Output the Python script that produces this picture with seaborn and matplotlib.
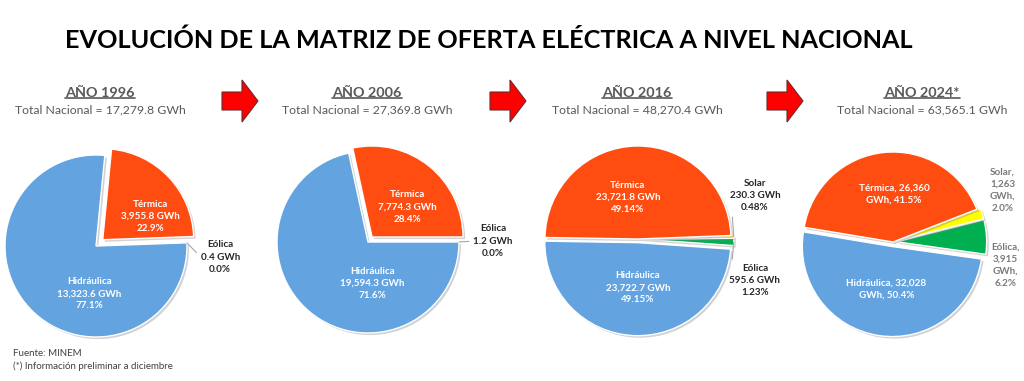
import numpy as np
import matplotlib
matplotlib.use("Agg")
import matplotlib.pyplot as plt
import matplotlib.patheffects as pe
from matplotlib.patches import Polygon
from matplotlib.lines import Line2D
import seaborn as sns

# data (GWh)
years = ["1996", "2006", "2016", "2024*"]
totals = [17279.8, 27369.8, 48270.4, 63565.1]
sources = ["Eólica", "Solar", "Térmica", "Hidráulica"]
eolica = [0.4, 1.2, 595.6, 3915]
solar = [0.0, 0.0, 230.3, 1263]
termica = [3955.8, 7774.3, 23721.8, 26360]
hidraulica = [13323.6, 19594.3, 23722.7, 32028]

sns.set_theme(style="white")
plt.rcParams["font.family"] = ["Lato", "DejaVu Sans"]

W, H = 1024, 381
U = 92.0  # pixels per pie unit
fig = plt.figure(figsize=(W / 100, H / 100), dpi=100)

colors = {"Eólica": "#00B050", "Solar": "#FFFF00",
          "Térmica": "#FF4D12", "Hidráulica": "#62A3E0"}
grey = "#595959"

# layout for each pie: centre (px), radius (px), start angle, explode, label spots
layout = [
    dict(cx=96, cy=246, r=91, start=2, explode={"Térmica": 0.1},
         pos={"Térmica": (0.59, 0.32), "Hidráulica": (-0.07, -0.52), "Eólica": (1.35, -0.12)},
         leader={"Eólica": (0.0, 0.5)}),
    dict(cx=368, cy=242, r=91, start=0, explode={"Térmica": 0.07},
         pos={"Térmica": (0.43, 0.38), "Hidráulica": (0.05, -0.45), "Eólica": (1.36, 0.01)},
         leader={"Eólica": (0.0, 0.5)}),
    dict(cx=638, cy=239, r=93, start=-4, explode={"Hidráulica": 0.04, "Solar": 0.03, "Eólica": 0.03},
         pos={"Térmica": (-0.11, 0.45), "Hidráulica": (0.0, -0.53), "Solar": (1.27, 0.47), "Eólica": (1.27, -0.45)},
         leader={"Solar": (0.05, 0.0), "Eólica": (0.05, 1.0)}),
    dict(cx=893, cy=242, r=90, start=-8, explode={"Hidráulica": 0.05, "Solar": 0.04, "Eólica": 0.04},
         pos={"Térmica": (0.01, 0.52), "Hidráulica": (-0.07, -0.51), "Solar": (1.19, 0.56), "Eólica": (1.22, -0.25)},
         leader={}),
]
header_x = [100, 367, 637, 922]
arrow_x = [222, 490, 767]

fig.text(489 / W, 1 - 40 / H, "EVOLUCIÓN DE LA MATRIZ DE OFERTA ELÉCTRICA A NIVEL NACIONAL",
         ha="center", va="center", fontsize=18.2, fontweight="bold", color="black")

year_texts = []
for i, yr in enumerate(years):
    t = fig.text(header_x[i] / W, 1 - 93 / H, f"AÑO {yr}", ha="center", va="center",
                 fontsize=10.4, fontweight="bold", color=grey)
    year_texts.append(t)
    fig.text(header_x[i] / W, 1 - 110 / H, f"Total Nacional = {totals[i]:,.1f} GWh",
             ha="center", va="center", fontsize=8.8, color=grey)

for i, yr in enumerate(years):
    lay = layout[i]
    vals = {"Eólica": eolica[i], "Solar": solar[i], "Térmica": termica[i], "Hidráulica": hidraulica[i]}
    names = [s for s in sources if vals[s] > 0]
    v = np.array([vals[s] for s in names])
    pct = v / totals[i] * 100
    half = 1.5 * U
    ax = fig.add_axes([(lay["cx"] - half) / W, 1 - (lay["cy"] + half) / H, 2 * half / W, 2 * half / H])
    wedges, _ = ax.pie(v, colors=[colors[s] for s in names], startangle=lay["start"], counterclock=True,
                       explode=[lay["explode"].get(s, 0) for s in names], radius=lay["r"] / U,
                       wedgeprops=dict(edgecolor="white", linewidth=1.0))
    for w in wedges:
        w.set_path_effects([pe.SimplePatchShadow(offset=(1.5, -1.5), shadow_rgbFace="#808080", alpha=0.35),
                            pe.Normal()])
    ax.set_xlim(-1.5, 1.5)
    ax.set_ylim(-1.5, 1.5)
    ax.set_axis_off()

    dec = 2 if yr == "2016" else 1
    for k, s in enumerate(names):
        inside = s in ("Térmica", "Hidráulica")
        if yr.startswith("2024"):
            if inside:
                lab = f"{s}, {v[k]:,.0f}\nGWh, {pct[k]:.1f}%"
            else:
                lab = f"{s},\n{v[k]:,.0f}\nGWh,\n{pct[k]:.1f}%"
        else:
            lab = f"{s}\n{v[k]:,.1f} GWh\n{pct[k]:.{dec}f}%"
        col = "white" if inside else ("#7a7a7a" if yr.startswith("2024") else "#262626")
        x, y = lay["pos"][s]
        if s in lay["leader"]:
            w = wedges[k]
            ang = np.deg2rad((w.theta1 + w.theta2) / 2)
            cxw, cyw = w.center
            tip = (cxw + w.r * np.cos(ang), cyw + w.r * np.sin(ang))
            ax.annotate(lab, xy=tip, xytext=(x, y), ha="center", va="center", fontsize=7.1,
                        fontweight="bold", color=col, linespacing=1.45, annotation_clip=False,
                        arrowprops=dict(arrowstyle="-", color="#a6a6a6", lw=0.8,
                                        relpos=lay["leader"][s], shrinkA=1, shrinkB=0))
        else:
            ax.text(x, y, lab, ha="center", va="center", fontsize=7.1, fontweight="bold",
                    color=col, linespacing=1.45)

# red arrows between years
for x0 in arrow_x:
    pts = [(x0, 92), (x0 + 20, 92), (x0 + 20, 80), (x0 + 36, 101),
           (x0 + 20, 122), (x0 + 20, 110), (x0, 110)]
    poly = Polygon([(px / W, 1 - py / H) for px, py in pts], closed=True, transform=fig.transFigure,
                   facecolor="#FF0000", edgecolor="#6b2b2b", linewidth=0.8)
    fig.add_artist(poly)

fig.text(13 / W, 1 - 353 / H, "Fuente: MINEM", ha="left", va="center", fontsize=7, color="#404040")
fig.text(13 / W, 1 - 366 / H, "(*) Información preliminar a diciembre", ha="left", va="center",
         fontsize=7, color="#404040")

# underline the year headers
fig.canvas.draw()
rend = fig.canvas.get_renderer()
inv = fig.transFigure.inverted()
for t in year_texts:
    bb = t.get_window_extent(rend)
    (x0, y0), (x1, _) = inv.transform([(bb.x0, bb.y0 + 1), (bb.x1, bb.y0 + 1)])
    fig.add_artist(Line2D([x0, x1], [y0, y0], transform=fig.transFigure, color=grey, lw=1.2))

fig.savefig("out.png", dpi=100, facecolor="white")
